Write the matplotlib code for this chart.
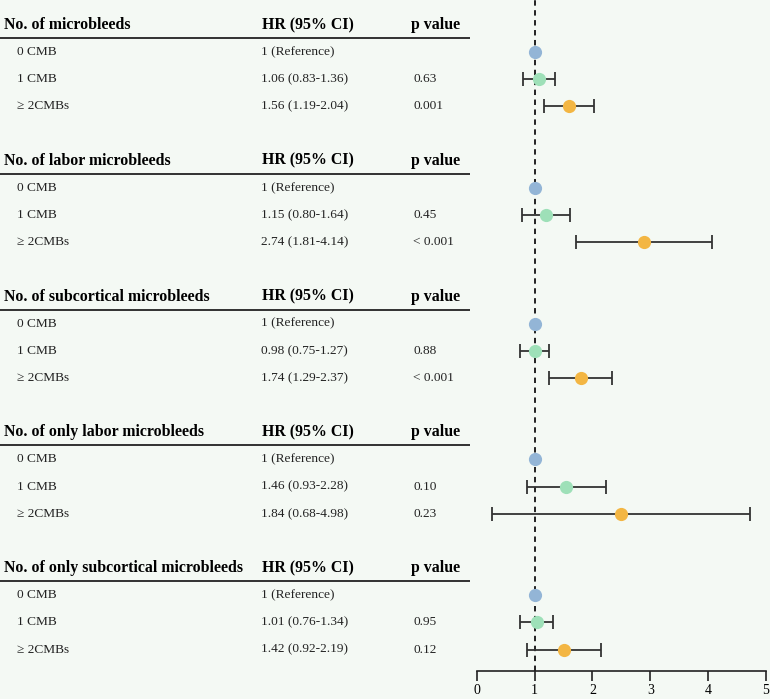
import matplotlib
matplotlib.use("Agg")
import matplotlib.pyplot as plt
import numpy as np

plt.rcParams['font.family'] = ['Liberation Serif', 'DejaVu Serif']

# ---- data ----
group_titles = [
    "No. of microbleeds",
    "No. of labor microbleeds",
    "No. of subcortical microbleeds",
    "No. of only labor microbleeds",
    "No. of only subcortical microbleeds",
]
row_labels = ["0 CMB", "1 CMB", "\u2265 2CMBs"]

hr_text = [
    ["1 (Reference)", "1.06 (0.83-1.36)", "1.56 (1.19-2.04)"],
    ["1 (Reference)", "1.15 (0.80-1.64)", "2.74 (1.81-4.14)"],
    ["1 (Reference)", "0.98 (0.75-1.27)", "1.74 (1.29-2.37)"],
    ["1 (Reference)", "1.46 (0.93-2.28)", "1.84 (0.68-4.98)"],
    ["1 (Reference)", "1.01 (0.76-1.34)", "1.42 (0.92-2.19)"],
]
p_text = [
    ["", "0.63", "0.001"],
    ["", "0.45", "< 0.001"],
    ["", "0.88", "< 0.001"],
    ["", "0.10", "0.23"],
    ["", "0.95", "0.12"],
]

# marker positions as drawn in the figure (0 CMB has no interval)
est = [
    [1.00, 1.08, 1.60],
    [1.00, 1.20, 2.89],
    [1.00, 1.00, 1.80],
    [1.00, 1.55, 2.50],
    [1.00, 1.04, 1.51],
]
ci_lo = [
    [np.nan, 0.80, 1.17],
    [np.nan, 0.78, 1.72],
    [np.nan, 0.74, 1.25],
    [np.nan, 0.87, 0.27],
    [np.nan, 0.74, 0.87],
]
ci_hi = [
    [np.nan, 1.35, 2.03],
    [np.nan, 1.61, 4.07],
    [np.nan, 1.25, 2.34],
    [np.nan, 2.23, 4.73],
    [np.nan, 1.32, 2.15],
]
x_ticks = [0, 1, 2, 3, 4, 5]

row_colors = ['#93b5d6', '#9ee0b8', '#f3b643']
bg = '#f4f9f4'

W, H = 770, 699
fig = plt.figure(figsize=(W / 100, H / 100), dpi=100, facecolor=bg)

# table layer in pixel coordinates
tab = fig.add_axes([0, 0, 1, 1])
tab.set_xlim(0, W)
tab.set_ylim(H, 0)
tab.axis('off')

# forest layer: x axis 0..5 between px 477 and 766, bottom spine at px 671
axis_y = 671
fx0, fx1 = 476.7, 766.0
ax = fig.add_axes([fx0 / W, 1 - axis_y / H, (fx1 - fx0) / W, axis_y / H])
ax.patch.set_alpha(0)
ax.set_xlim(0, 5)
ax.set_ylim(axis_y, 0)

group_step = 135.8
first_header = 25
for g, title in enumerate(group_titles):
    hy = first_header + g * group_step
    tab.text(4, hy, title, fontsize=11.4, fontweight='bold', va='center', ha='left')
    tab.text(262, hy, "HR (95% CI)", fontsize=11.4, fontweight='bold', va='center', ha='left')
    tab.text(411, hy, "p value", fontsize=11.4, fontweight='bold', va='center', ha='left')
    tab.plot([0, 470], [hy + 13, hy + 13], color='#222222', lw=1.3, solid_capstyle='butt')
    for r in range(3):
        ry = hy + 27 + r * 27.2
        tab.text(17, ry, row_labels[r], fontsize=9.6, va='center', ha='left', color='#222222')
        tab.text(261, ry, hr_text[g][r], fontsize=9.6, va='center', ha='left', color='#222222')
        tab.text(413, ry, p_text[g][r], fontsize=9.6, va='center', ha='left', color='#222222')
        if not np.isnan(ci_lo[g][r]):
            xerr = [[est[g][r] - ci_lo[g][r]], [ci_hi[g][r] - est[g][r]]]
            ax.errorbar([est[g][r]], [ry], xerr=xerr, fmt='none', ecolor='#333333',
                        elinewidth=1.3, capsize=5, capthick=1.3, zorder=3)
        ax.plot(est[g][r], ry, 'o', ms=9.5, color=row_colors[r], mec='none', zorder=4)

ax.axvline(1, color='#111111', lw=1.3, ls=(0, (3, 2.5)), zorder=2)

for side in ['left', 'right', 'top']:
    ax.spines[side].set_visible(False)
ax.spines['bottom'].set_color('#222222')
ax.spines['bottom'].set_linewidth(1.2)
ax.set_yticks([])
ax.set_xticks(x_ticks)
ax.tick_params(axis='x', direction='out', length=7, width=1.2, color='#222222',
               labelsize=10, pad=2)

fig.savefig('out.png', dpi=100, facecolor=bg)
